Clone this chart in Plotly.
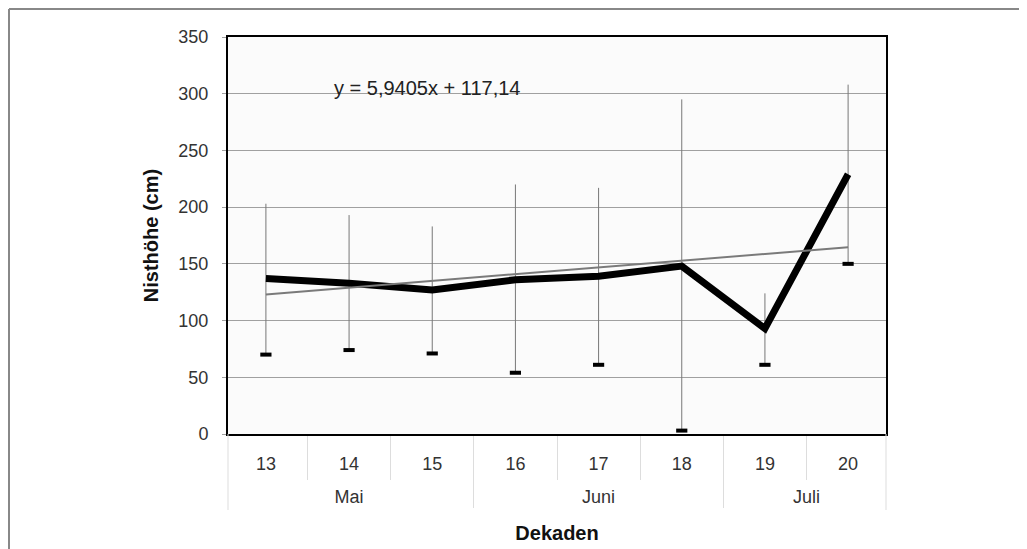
import plotly.graph_objects as go

months = ["Mai", "Mai", "Mai", "Juni", "Juni", "Juni", "Juli", "Juli"]
dekaden = ["13", "14", "15", "16", "17", "18", "19", "20"]
mean_height = [137, 133, 127, 136, 139, 148, 93, 229]
max_height = [203, 193, 183, 220, 217, 295, 124, 308]
min_height = [70, 74, 71, 54, 61, 3, 61, 150]
trend_slope = 5.9405
trend_intercept = 117.14

# month labels are pushed one line down to sit lower under the decade labels
x = [["<br>" + m for m in months], dekaden]
trend = [trend_slope * (i + 1) + trend_intercept for i in range(len(dekaden))]

# figure geometry (page has an 8px body margin)
W, H = 1019, 541
L, T, R, B = 220, 29, 141, 115
PW, PH = W - L - R, H - T - B

fig = go.Figure()

# range whiskers (min to max) with dash at min
fig.add_trace(go.Scatter(
    x=x, y=min_height, mode="markers",
    marker=dict(symbol="line-ew-open", size=8, color="black",
                line=dict(color="black", width=4)),
    error_y=dict(type="data", symmetric=False,
                 array=[mx - mn for mx, mn in zip(max_height, min_height)],
                 arrayminus=[0] * len(min_height),
                 width=0, thickness=1, color="#777777"),
    showlegend=False, hoverinfo="skip"))

fig.add_trace(go.Scatter(
    x=x, y=mean_height, mode="lines",
    line=dict(color="black", width=7),
    showlegend=False))

fig.add_trace(go.Scatter(
    x=x, y=trend, mode="lines",
    line=dict(color="#7a7a7a", width=2),
    showlegend=False))

fig.add_annotation(
    text="y = 5,9405x + 117,14", xref="paper", yref="paper",
    x=0.302, y=0.8715, xanchor="center", yanchor="middle", showarrow=False,
    font=dict(size=20, color="#222222"))

edge_len = -76 / PH
fig.update_layout(
    width=W, height=H,
    margin=dict(l=L, r=R, t=T, b=B, autoexpand=False),
    paper_bgcolor="white",
    plot_bgcolor="#fbfbfb",
    font=dict(family="Liberation Sans, Arial, sans-serif", color="#333333"),
    xaxis=dict(
        type="multicategory",
        showline=True, linecolor="black", linewidth=2, mirror=True,
        ticks="outside", tickson="boundaries", ticklen=44,
        tickcolor="#dddddd", tickwidth=1,
        dividercolor="#dddddd", dividerwidth=1,
        showgrid=False,
        ticklabelstandoff=12,
        tickfont=dict(size=18, color="#333333"),
        title=dict(text="<b>Dekaden</b>", font=dict(size=20, color="#111111"), standoff=20),
    ),
    yaxis=dict(
        range=[0, 350], dtick=50,
        showline=True, linecolor="black", linewidth=2, mirror=True,
        showgrid=True, gridcolor="#a0a0a0", gridwidth=1,
        ticks="outside", ticklen=4, tickcolor="#a0a0a0",
        ticklabelstandoff=10,
        tickfont=dict(size=18, color="#333333"),
        zeroline=False,
        title=dict(text="<b>Nisthöhe (cm)</b>", font=dict(size=20, color="#111111"), standoff=14),
    ),
    shapes=[
        dict(type="line", xref="paper", yref="paper",
             x0=(1 - L) / PW, x1=(W - L) / PW,
             y0=(H - B - 1) / PH, y1=(H - B - 1) / PH,
             line=dict(color="#888888", width=2)),
        dict(type="line", xref="paper", yref="paper",
             x0=(1 - L) / PW, x1=(1 - L) / PW,
             y0=(H - B - 1) / PH, y1=-B / PH,
             line=dict(color="#888888", width=2)),
        dict(type="line", xref="paper", yref="paper",
             x0=0, x1=0, y0=0, y1=edge_len,
             line=dict(color="#dddddd", width=1)),
        dict(type="line", xref="paper", yref="paper",
             x0=1, x1=1, y0=0, y1=edge_len,
             line=dict(color="#dddddd", width=1)),
    ],
)

fig.write_html("out.html")
